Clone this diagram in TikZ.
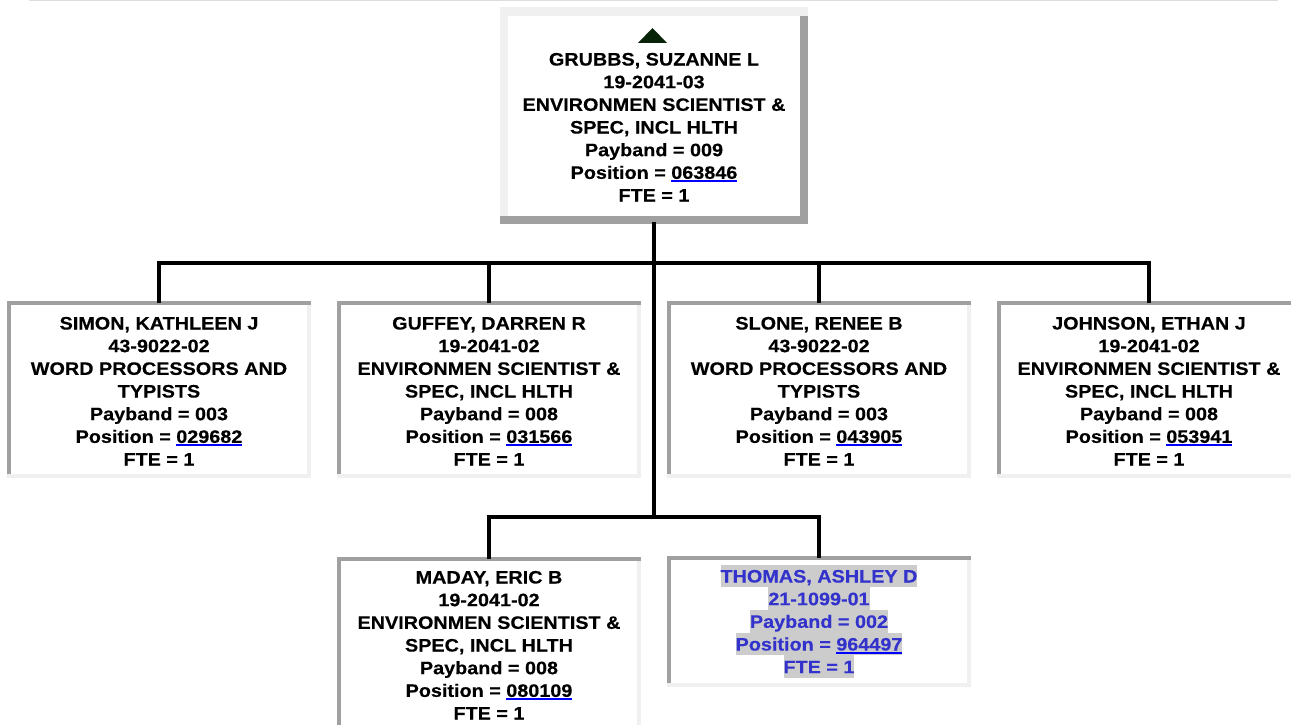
\documentclass[tikz,border=0pt]{standalone}
\usepackage{fontspec}
\setmainfont{Liberation Sans}[FakeStretch=1.1,FakeBold=0.4]
\definecolor{linkblue}{RGB}{0,0,255}
\definecolor{thblue}{RGB}{51,51,204}
\definecolor{hlgray}{RGB}{204,204,204}
\definecolor{bdark}{RGB}{160,160,160}
\definecolor{blight}{RGB}{240,240,240}
\definecolor{topline}{RGB}{221,221,221}
\definecolor{arrowgreen}{RGB}{8,36,8}
\newsavebox\lnkbox
\newcommand\lnk[1]{\sbox\lnkbox{#1}\textcolor{linkblue}{\rlap{\rule[-3pt]{\wd\lnkbox}{2pt}}\usebox\lnkbox}}
\newcommand\hlt[1]{{\setlength\fboxsep{0pt}\colorbox{hlgray}{\rule[-4.9pt]{0pt}{22.6pt}#1}}}
\newcommand\fs{\rule{0pt}{17.7pt}}
\tikzset{
  obox/.style={rectangle, fill=white, inner sep=0pt, minimum width=308pt, minimum height=217pt,
    path picture={
      \fill[blight] (path picture bounding box.north west) rectangle ([yshift=-9pt]path picture bounding box.north east);
      \fill[blight] (path picture bounding box.north west) rectangle ([xshift=8pt]path picture bounding box.south west);
      \fill[bdark] (path picture bounding box.south west) rectangle ([yshift=8pt]path picture bounding box.south east);
      \fill[bdark] ([yshift=-9pt]path picture bounding box.north east) rectangle ([xshift=-8pt]path picture bounding box.south east);
    }},
  ibox/.style={rectangle, fill=white, inner sep=0pt, minimum width=304pt, minimum height=177pt,
    path picture={
      \fill[blight] (path picture bounding box.south west) rectangle ([yshift=4.5pt]path picture bounding box.south east);
      \fill[blight] (path picture bounding box.north east) rectangle ([xshift=-4pt]path picture bounding box.south east);
      \fill[bdark] (path picture bounding box.north west) rectangle ([yshift=-4pt]path picture bounding box.north east);
      \fill[bdark] (path picture bounding box.north west) rectangle ([xshift=4pt,yshift=4.5pt]path picture bounding box.south west);
    }},
  txt/.style={anchor=north, inner sep=0pt, align=center, font=\fontsize{18}{22.67}\selectfont\bfseries},
  conn/.style={line width=4pt, black, line cap=rect, line join=miter},
}
\begin{document}
\begin{tikzpicture}[x=1pt, y=-1pt]
\useasboundingbox (0,0) rectangle (1291,725);
\clip (0,0) rectangle (1291,725);
\fill[white] (0,0) rectangle (1291,725);
\draw[topline, line width=1pt] (29,0.5) -- (1278,0.5);

% boxes
\node[obox] (root) at (654,115.5) {};
\node[ibox] (simon) at (159,389.5) {};
\node[ibox] (guffey) at (489,389.5) {};
\node[ibox] (slone) at (819,389.5) {};
\node[ibox] (johnson) at (1149,389.5) {};
\node[ibox] (maday) at (489,645.5) {};
\node[ibox, minimum height=131pt] (thomas) at (819,621.5) {};

% junctions
\coordinate (j1) at (654,263);
\coordinate (j2) at (654,517);

% connectors
\draw[conn] (root.south) -- (j2);
\draw[conn] (simon.north) -- (simon.north |- j1) -- (johnson.north |- j1) -- (johnson.north);
\draw[conn] (guffey.north |- j1) -- (guffey.north);
\draw[conn] (slone.north |- j1) -- (slone.north);
\draw[conn] (maday.north) -- (maday.north |- j2) -- (thomas.north |- j2) -- (thomas.north);

% triangle
\fill[arrowgreen] (638,43) -- (667,43) -- (652.5,28) -- cycle;

% texts
\node[txt] (root-t) at (654,47.6) {\fs GRUBBS, SUZANNE L\\19-2041-03\\ENVIRONMEN SCIENTIST \&\\SPEC, INCL HLTH\\Payband = 009\\Position = \lnk{063846}\\FTE = 1};
\node[txt] (simon-t) at (159,311.6) {\fs SIMON, KATHLEEN J\\43-9022-02\\WORD PROCESSORS AND\\TYPISTS\\Payband = 003\\Position = \lnk{029682}\\FTE = 1};
\node[txt] (guffey-t) at (489,311.6) {\fs GUFFEY, DARREN R\\19-2041-02\\ENVIRONMEN SCIENTIST \&\\SPEC, INCL HLTH\\Payband = 008\\Position = \lnk{031566}\\FTE = 1};
\node[txt] (slone-t) at (819,311.6) {\fs SLONE, RENEE B\\43-9022-02\\WORD PROCESSORS AND\\TYPISTS\\Payband = 003\\Position = \lnk{043905}\\FTE = 1};
\node[txt] (johnson-t) at (1149,311.6) {\fs JOHNSON, ETHAN J\\19-2041-02\\ENVIRONMEN SCIENTIST \&\\SPEC, INCL HLTH\\Payband = 008\\Position = \lnk{053941}\\FTE = 1};
\node[txt] (maday-t) at (489,565.6) {\fs MADAY, ERIC B\\19-2041-02\\ENVIRONMEN SCIENTIST \&\\SPEC, INCL HLTH\\Payband = 008\\Position = \lnk{080109}\\FTE = 1};
\node[txt, text=thblue] (thomas-t) at (819,564.6) {\hlt{THOMAS, ASHLEY D}\\\hlt{21-1099-01}\\\hlt{Payband = 002}\\\hlt{Position = \lnk{964497}}\\\hlt{FTE = 1}};
\end{tikzpicture}
\end{document}
